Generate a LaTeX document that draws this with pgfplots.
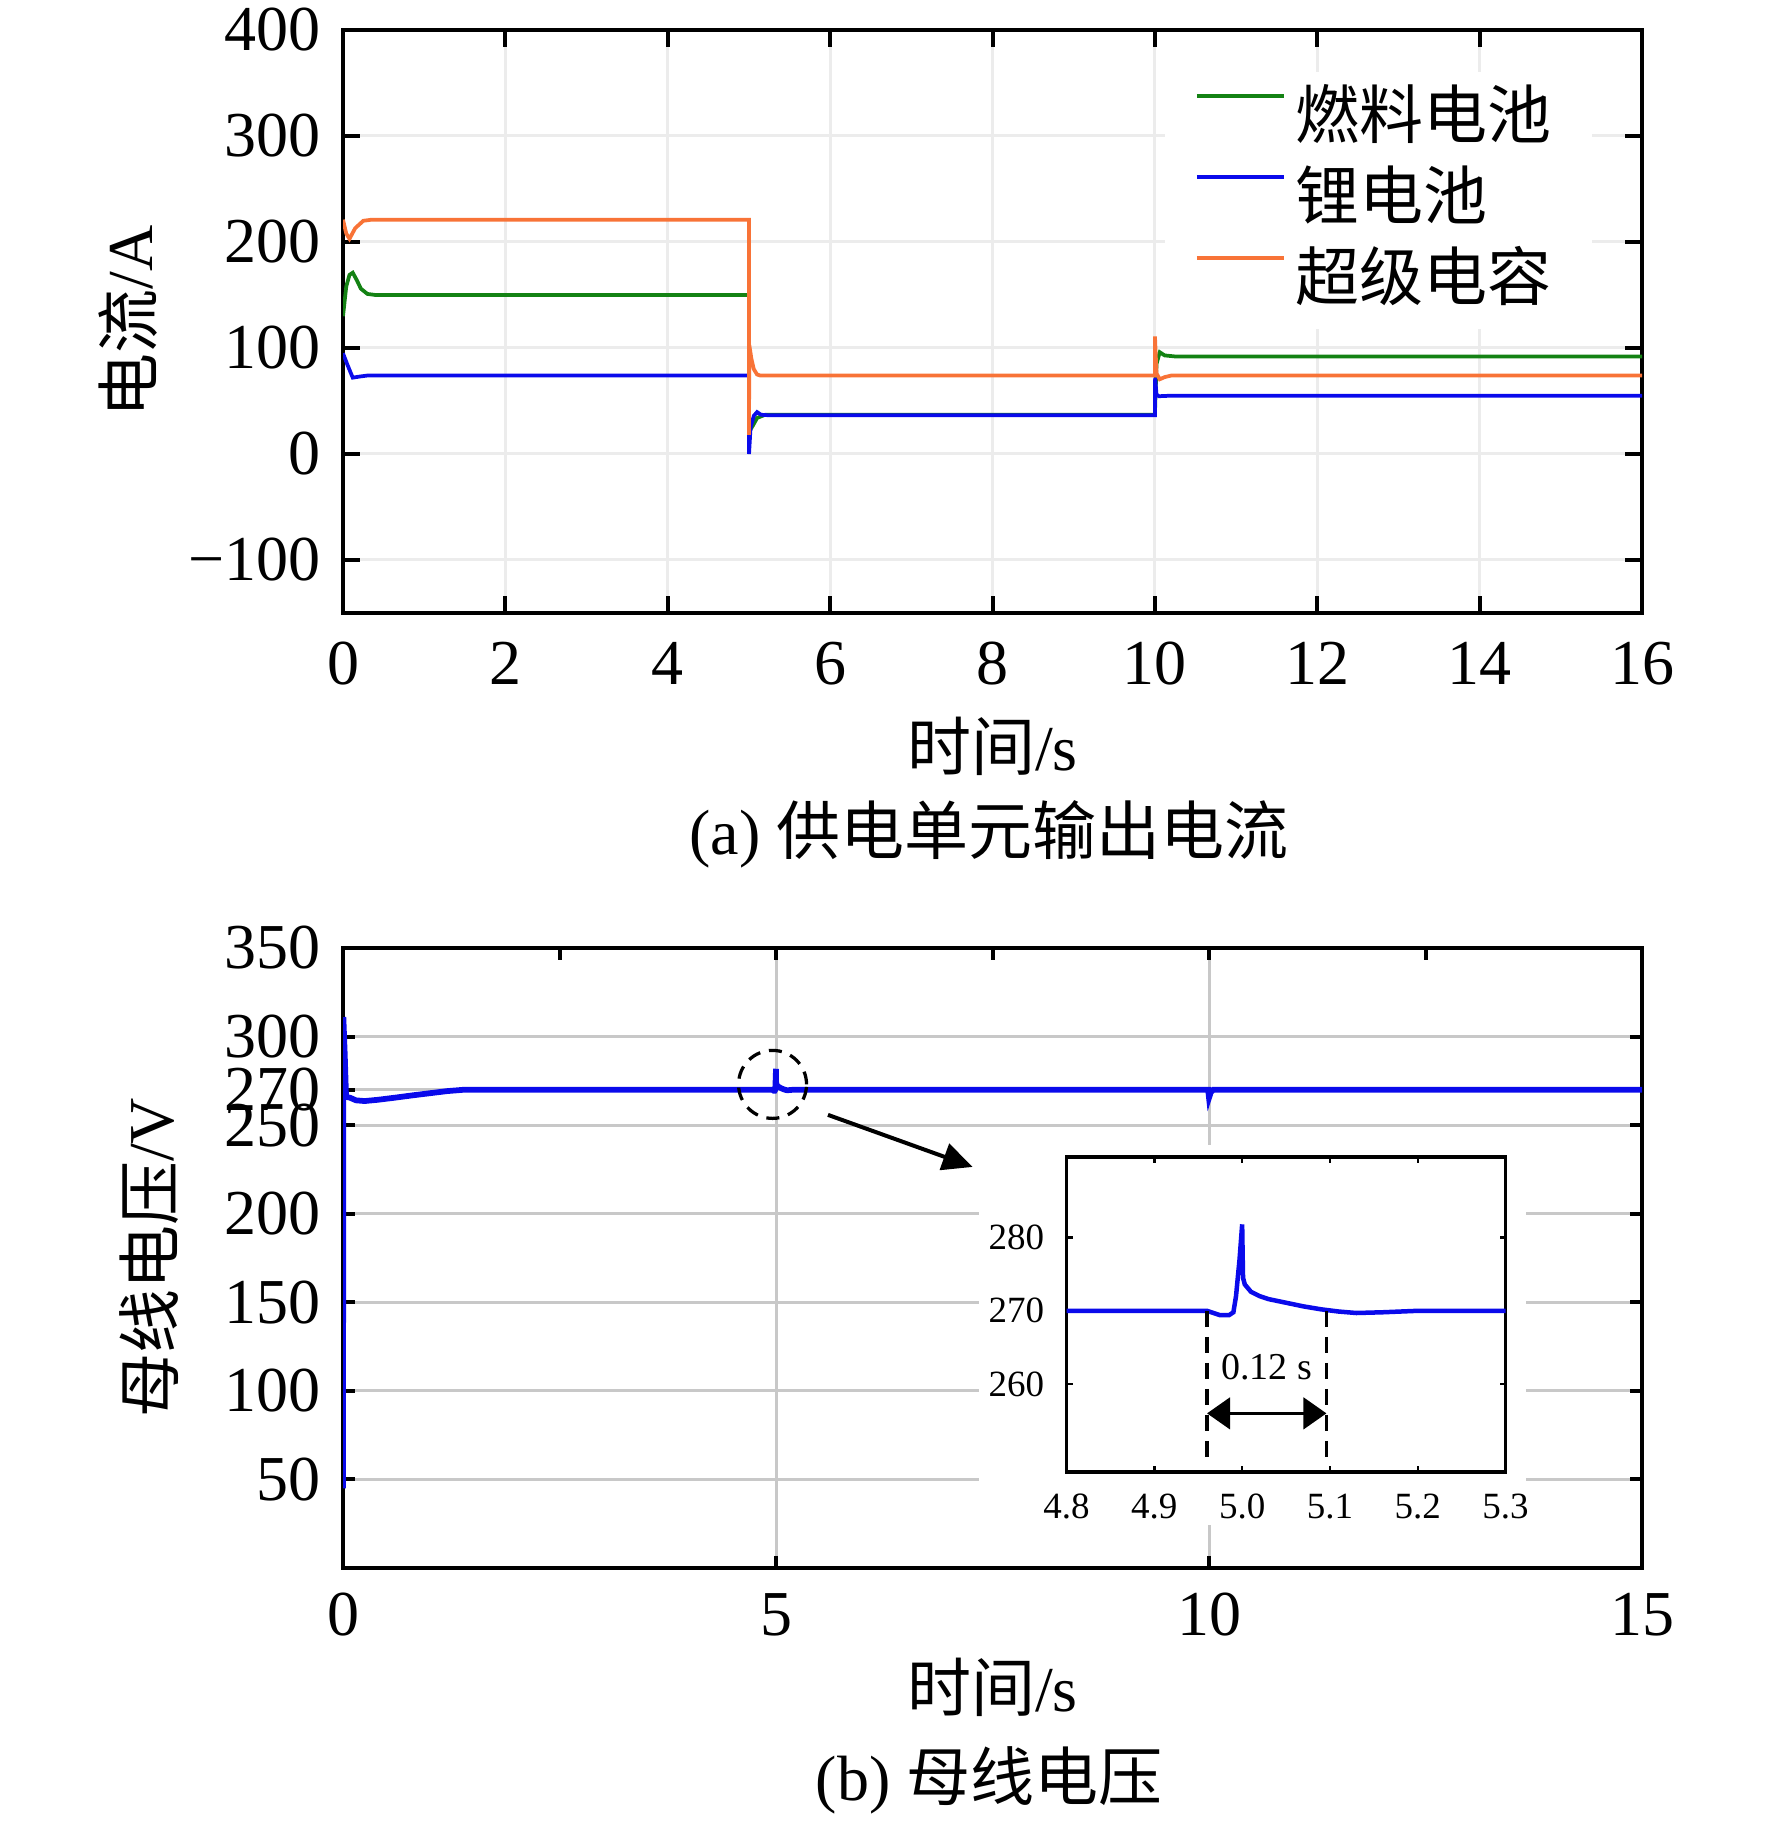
\documentclass[border=0pt]{standalone}
\usepackage{fontspec}
\setmainfont{Liberation Serif}
\newfontfamily\cjk{Noto Sans CJK SC}
\usepackage{pgfplots}
\pgfplotsset{compat=1.18}
\usepackage{pgfplotstable}
\usetikzlibrary{arrows.meta}
\definecolor{cG}{RGB}{20,130,20}
\definecolor{cB}{RGB}{10,10,235}
\definecolor{cO}{RGB}{248,115,55}
\definecolor{gridA}{RGB}{236,236,236}
\definecolor{gridB}{RGB}{200,200,200}

\pgfplotstableread{
t v
0 130
0.04 158
0.08 169
0.12 171
0.17 164
0.22 156
0.3 151
0.4 150
5.0 150
5.001 21
5.05 27
5.1 34
5.2 37
10.0 37
10.02 85
10.06 96
10.12 93
10.25 92
16 92
}\fuel
\pgfplotstableread{
t v
0 95
0.05 85
0.12 72
0.2 73
0.3 74
5.0 74
5.001 0
5.02 25
5.06 36
5.1 39.5
5.15 37
5.25 36.5
10.0 36.5
10.003 72
10.02 56
10.05 54.5
10.2 55
16 55
}\liion
\pgfplotstableread{
t v
0 221
0.04 208
0.08 203
0.15 213
0.25 220
0.35 221
5.0 221
5.001 18
5.004 103
5.03 90
5.06 80
5.1 75
5.14 74
10.0 74
10.001 111
10.02 76
10.06 70.5
10.12 72.5
10.2 74
16 74
}\supercap
\pgfplotstableread{
t v
0 45
0.004 311
0.02 290
0.035 266
0.08 265.5
0.15 264
0.25 263.6
0.4 264.3
0.6 265.5
0.8 266.8
1.0 268
1.2 269.2
1.4 270
4.96 270
4.965 269.8
4.975 269.4
4.985 269.4
4.99 269.8
4.993 272
4.997 277
5.0 281.8
5.0005 278
5.001 274.5
5.003 273.6
5.01 272.6
5.02 272.0
5.03 271.6
5.05 271.1
5.07 270.6
5.09 270.2
5.11 269.9
5.13 269.7
5.16 269.8
5.2 270
9.99 270
10.0 265.5
10.02 268.5
10.05 270
15 270
}\voltage

\begin{document}
\fontsize{12.8}{15.4}\selectfont
\begin{tikzpicture}
\path[use as bounding box] (0,0) rectangle (354.4pt,366.2pt);

% ---------- panel (a)
\begin{axis}[
  at={(68.6pt,243.6pt)}, anchor=south west, scale only axis,
  width=259.8pt, height=116.6pt,
  xmin=0, xmax=16, ymin=-150, ymax=400,
  xtick={0,2,4,6,8,10,12,14,16}, xticklabels={0,2,4,6,8,10,12,14,16},
  ytick={-100,0,100,200,300,400}, yticklabels={−100,0,100,200,300,400},
  xticklabel style={yshift=-1.4pt},
  tick align=inside, xtick pos=both, ytick pos=both,
  major tick length=3.4pt,
  every tick/.style={black, line width=0.8pt},
  axis line style={line width=0.8pt},
  grid=major, major grid style={color=gridA, line width=0.6pt},
  xlabel={{\cjk 时间}/s}, ylabel={{\cjk 电流}/A},
  xlabel style={at={(axis description cs:0.5,-0.228)}, anchor=center},
  ylabel style={at={(axis description cs:-0.1655,0.5)}, anchor=center},
  legend style={at={(axis description cs:0.632,0.93)}, anchor=north west,
    draw=none, fill=white, inner xsep=6pt, inner ysep=1.4pt, row sep=0pt,
    nodes={inner ysep=1.6pt, inner xsep=2pt, text height=10.4pt, text depth=2.6pt}},
  legend cell align=left,
  legend image code/.code={\draw[#1, line width=0.75pt] (0pt,4.6pt) -- (17.4pt,4.6pt);},
]
\addplot[cG, line width=0.75pt] table[x=t,y=v] {\fuel};
\addplot[cB, line width=0.75pt] table[x=t,y=v] {\liion};
\addplot[cO, line width=0.75pt] table[x=t,y=v] {\supercap};
\legend{{\cjk 燃料电池},{\cjk 锂电池},{\cjk 超级电容}}
\end{axis}
\node at (197.8pt,199.4pt) {(a) {\cjk 供电单元输出电流}};

% ---------- panel (b)
\begin{axis}[
  at={(68.6pt,52.6pt)}, anchor=south west, scale only axis,
  width=259.8pt, height=124pt,
  xmin=0, xmax=15, ymin=0, ymax=350,
  xtick={0,5,10,15}, xticklabels={0,5,10,15},
  ytick={50,100,150,200,250,270,300,350},
  yticklabels={50,100,150,200,250,270,300,350},
  xticklabel style={yshift=-0.6pt},
  tick align=inside, xtick pos=both, ytick pos=both,
  major tick length=2.4pt,
  every tick/.style={black, line width=0.8pt},
  axis line style={line width=0.8pt},
  grid=major, major grid style={color=gridB, line width=0.6pt},
  xlabel={{\cjk 时间}/s}, ylabel={{\cjk 母线电压}/V},
  xlabel style={at={(axis description cs:0.5,-0.192)}, anchor=center},
  ylabel style={at={(axis description cs:-0.1493,0.5)}, anchor=center},
]
\addplot[cB, line width=1.15pt] table[x=t,y=v] {\voltage};
\draw[black, line width=0.65pt, dash pattern=on 2.6pt off 1.8pt] (axis cs:4.96,273) circle[radius=6.8pt];
\draw[black, line width=0.8pt, -{Triangle[length=6pt,width=5.5pt]}] (axis cs:5.6,255.8) -- (axis cs:7.27,226.4);
\end{axis}
% top minor ticks
\begin{axis}[
  at={(68.6pt,52.6pt)}, anchor=south west, scale only axis,
  width=259.8pt, height=124pt,
  xmin=0, xmax=15, ymin=0, ymax=350,
  xtick={2.5,7.5,12.5}, xticklabels={}, ytick=\empty,
  tick align=inside, xtick pos=right,
  major tick length=2.4pt,
  every tick/.style={black, line width=0.8pt},
  axis line style={draw=none},
]
\end{axis}
\node at (197.8pt,10.2pt) {(b) {\cjk 母线电压}};

% ---------- inset
\fill[white] (195.8pt,61.2pt) rectangle (305.1pt,137.2pt);
\begin{axis}[
  at={(213.3pt,71.8pt)}, anchor=south west, scale only axis,
  width=87.8pt, height=63pt,
  xmin=4.8, xmax=5.3, ymin=248, ymax=291,
  xtick={4.8,4.9,5.0,5.1,5.2,5.3}, xticklabels={4.8,4.9,5.0,5.1,5.2,5.3},
  ytick={260,270,280}, yticklabels={260,270,280},
  tick label style={font=\fontsize{7.4}{8.8}\selectfont},
  tick align=inside, xtick pos=both, ytick pos=both,
  major tick length=1.2pt,
  every tick/.style={black, line width=0.5pt},
  axis line style={line width=0.65pt},
]
\addplot[cB, line width=0.9pt] table[x=t,y=v] {\voltage};
\draw[black, line width=0.65pt, dash pattern=on 3.2pt off 2pt] (axis cs:4.96,270) -- (axis cs:4.96,249.1);
\draw[black, line width=0.65pt, dash pattern=on 3.2pt off 2pt] (axis cs:5.096,270) -- (axis cs:5.096,249.1);
\draw[black, line width=0.6pt, {Triangle[length=4.6pt,width=6.3pt]}-{Triangle[length=4.6pt,width=6.3pt]}] (axis cs:4.96,256) -- (axis cs:5.096,256);
\node[font=\fontsize{7.6}{9}\selectfont] at (axis cs:5.028,262.3) {0.12 s};
\end{axis}
\end{tikzpicture}
\end{document}
